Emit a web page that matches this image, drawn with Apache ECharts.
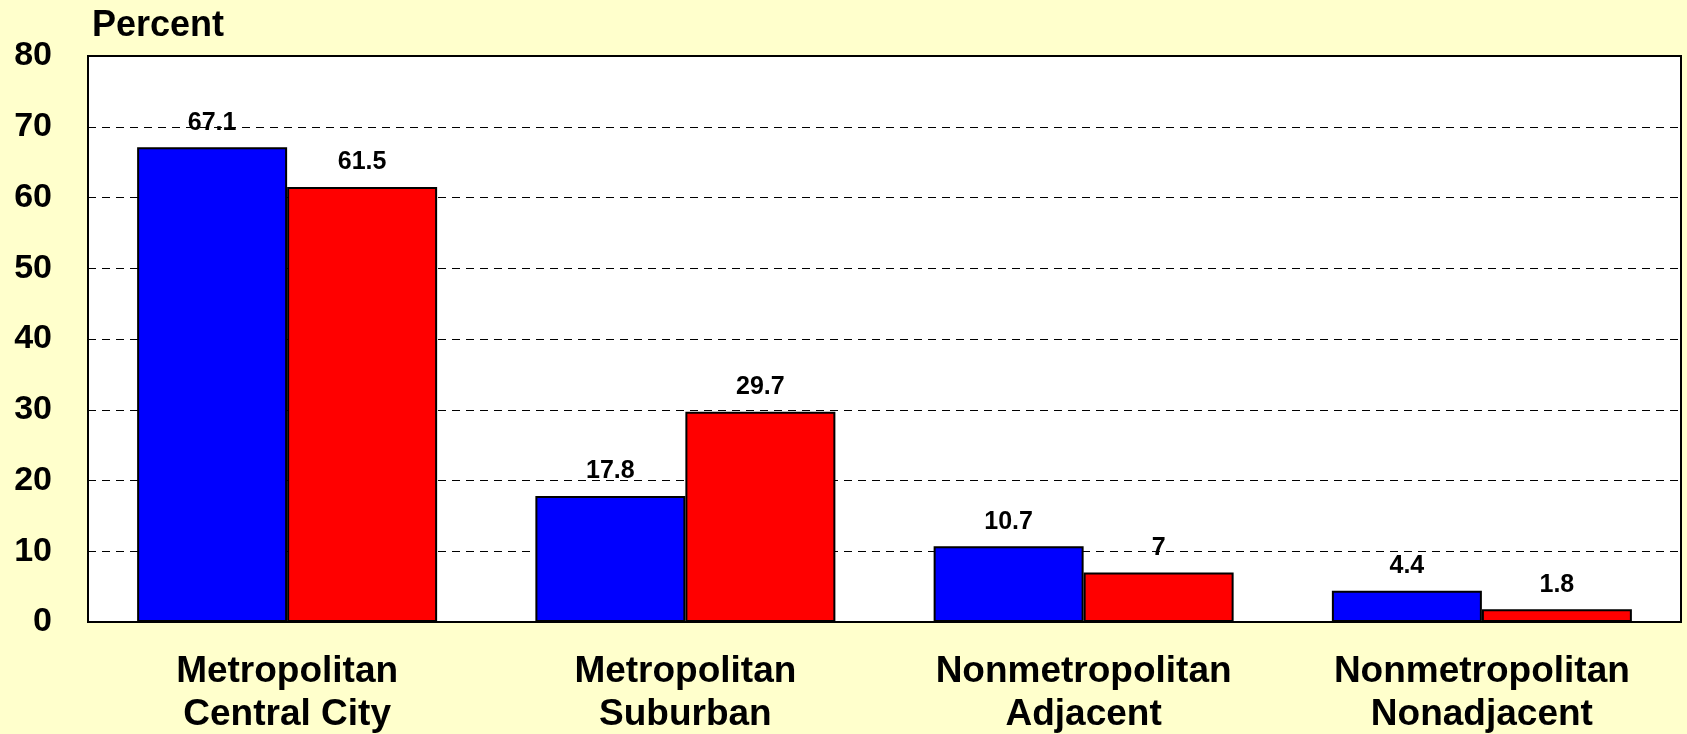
<!DOCTYPE html>
<html><head><meta charset="utf-8">
<script src="https://cdn.jsdelivr.net/npm/echarts@6/dist/echarts.min.js"></script>
<style>html,body{margin:0;padding:0;background:#FFFFCC;}#c{width:1687px;height:734px;}</style>
</head><body><div id="c"></div>
<script>
const categories = ['Metropolitan\nCentral City', 'Metropolitan\nSuburban', 'Nonmetropolitan\nAdjacent', 'Nonmetropolitan\nNonadjacent'];
const blueValues = [67.1, 17.8, 10.7, 4.4];
const redValues = [61.5, 29.7, 7, 1.8];
const yTicks = {min: 0, max: 80, interval: 10};
const axisTitle = 'Percent';

const FONT = '"Liberation Sans", Arial, sans-serif';
const chart = echarts.init(document.getElementById('c'));
const labelOpt = {show: true, position: 'top', distance: 12, color: '#000', fontFamily: FONT, fontWeight: 'bold', fontSize: 25};
chart.setOption({
  backgroundColor: '#FFFFCC',
  animation: false,
  title: {text: axisTitle, left: 87, top: 3, textStyle: {fontFamily: FONT, fontWeight: 'bold', fontSize: 36, color: '#000'}},
  grid: {left: 88, right: 6, top: 56, bottom: 112, show: true, backgroundColor: '#fff', borderColor: '#000', borderWidth: 2, containLabel: false, outerBoundsMode: 'none'},
  xAxis: {
    type: 'category', data: categories,
    axisLine: {show: false}, axisTick: {show: false},
    axisLabel: {margin: 28, color: '#000', fontFamily: FONT, fontWeight: 'bold', fontSize: 37, lineHeight: 43}
  },
  yAxis: {
    type: 'value', min: yTicks.min, max: yTicks.max, interval: yTicks.interval,
    axisLine: {show: false}, axisTick: {show: false},
    axisLabel: {margin: 36, color: '#000', fontFamily: FONT, fontWeight: 'bold', fontSize: 34},
    splitLine: {show: true, lineStyle: {color: '#000', width: 1, type: [8, 6]}}
  },
  series: [
    {type: 'bar', data: blueValues, barWidth: 150, barGap: '0%', itemStyle: {color: '#0000FF', borderColor: '#000', borderWidth: 2}, label: labelOpt},
    {type: 'bar', data: redValues, barWidth: 150, barGap: '0%', itemStyle: {color: '#FF0000', borderColor: '#000', borderWidth: 2}, label: labelOpt}
  ]
});
</script></body></html>
